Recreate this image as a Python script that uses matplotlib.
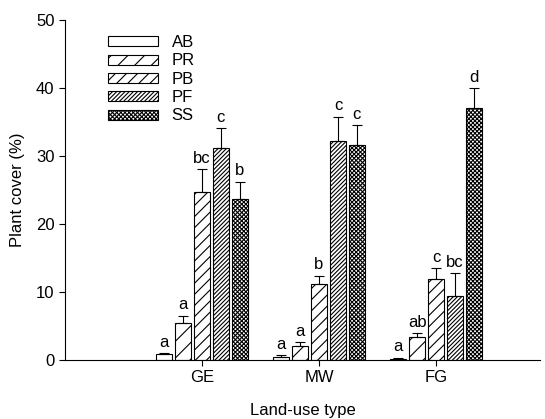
import numpy as np
import matplotlib
matplotlib.use("Agg")
import matplotlib.pyplot as plt

plt.rcParams['font.family'] = ['Liberation Sans', 'DejaVu Sans']
plt.rcParams['hatch.linewidth'] = 0.8

sites = ['GE', 'MW', 'FG']
treatments = ['AB', 'PR', 'PB', 'PF', 'SS']

# mean plant cover (%) per treatment, one value per site
AB = [0.8, 0.5, 0.2]
PR = [5.4, 2.1, 3.3]
PB = [24.7, 11.1, 11.9]
PF = [31.2, 32.2, 9.4]
SS = [23.7, 31.6, 37.1]

AB_se = [0.2, 0.2, 0.1]
PR_se = [1.1, 0.5, 0.6]
PB_se = [3.4, 1.3, 1.6]
PF_se = [2.9, 3.6, 3.4]
SS_se = [2.5, 2.9, 2.9]

AB_let = ['a', 'a', 'a']
PR_let = ['a', 'a', 'ab']
PB_let = ['bc', 'b', 'c']
PF_let = ['c', 'c', 'bc']
SS_let = ['b', 'c', 'd']

means = [AB, PR, PB, PF, SS]
errs = [AB_se, PR_se, PB_se, PF_se, SS_se]
letters = [AB_let, PR_let, PB_let, PF_let, SS_let]
hatches = ['', '//', '///', '////////', 'xxxxxxxx']

fig = plt.figure(figsize=(5.45, 4.19), dpi=100)
ax = fig.add_axes([0.119, 0.141, 0.872, 0.811])

x = np.arange(1, len(sites) + 1)
step = 0.162
width = 0.137

for i, name in enumerate(treatments):
    pos = x + (i - 2) * step
    ax.bar(pos, means[i], width, color='white', edgecolor='black',
           hatch=hatches[i], linewidth=0.8, label=name, zorder=2)
    ax.errorbar(pos, means[i], yerr=[np.zeros(3), errs[i]], fmt='none',
                ecolor='black', elinewidth=0.8, capsize=3.5, capthick=0.8,
                zorder=3)
    for p, m, e, t in zip(pos, means[i], errs[i], letters[i]):
        ax.text(p, m + e + 0.5, t, ha='center', va='bottom', fontsize=12)

ax.set_xlim(-0.171, 3.889)
ax.set_ylim(0, 50)
ax.set_xticks(x)
ax.set_xticklabels(sites)
ax.set_yticks(range(0, 51, 10))
ax.tick_params(labelsize=12, direction='out', width=0.8, length=4)
ax.spines['top'].set_visible(False)
ax.spines['right'].set_visible(False)
ax.set_xlabel('Land-use type', fontsize=12, labelpad=13)
ax.set_ylabel('Plant cover (%)', fontsize=12, labelpad=8)

ax.legend(loc='upper left', bbox_to_anchor=(0.06, 1.0), frameon=False,
          fontsize=12, handlelength=3.0, handleheight=0.55,
          labelspacing=0.2, handletextpad=0.8)

fig.savefig('out.png', dpi=100)
